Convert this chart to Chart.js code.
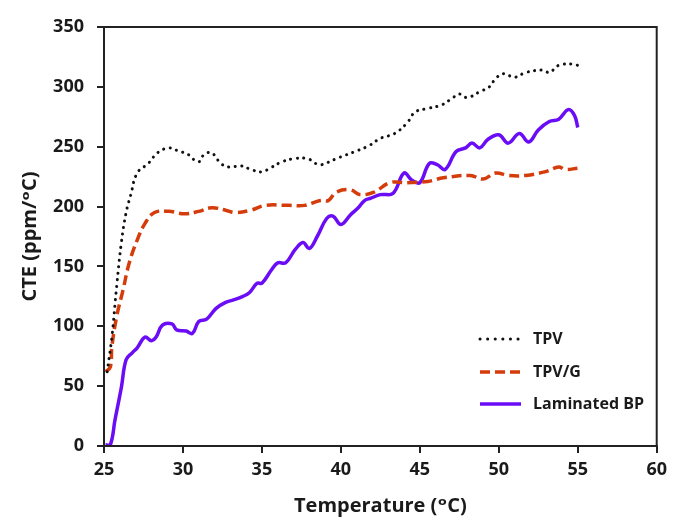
<!DOCTYPE html>
<html>
<head>
<meta charset="utf-8">
<script src="https://cdn.jsdelivr.net/npm/chart.js@4"></script>
<style>
  html, body { margin: 0; padding: 0; background: #fff; }
  #wrap { width: 673px; height: 522px; }
</style>
</head>
<body>
<div id="wrap"><canvas id="cte-chart" width="673" height="522"></canvas></div>
<script>
// values
const tpvTemp = [25.2, 25.5, 25.8, 26.1, 26.4, 26.7, 27.1, 27.8, 28.4, 29.1, 29.6, 30.4, 30.8, 31.1, 31.3, 31.8, 32.4, 32.9, 33.7, 34.3, 35.0, 35.5, 36.2, 37.0, 37.9, 38.6, 39.2, 39.7, 40.3, 41.1, 41.8, 42.5, 43.4, 44.2, 44.7, 45.5, 46.4, 47.1, 47.5, 48.0, 48.8, 49.4, 49.8, 50.3, 51.0, 51.7, 52.8, 53.2, 53.8, 54.7, 55.0];
const tpvCte = [62, 91, 133, 170, 195, 210, 228, 236, 245, 249, 247, 243, 238, 238, 243, 245, 236, 233, 234, 231, 229, 232, 237, 240, 240, 235, 237, 240, 243, 247, 251, 257, 261, 270, 279, 282, 285, 291, 294, 291, 296, 300, 307, 311, 308, 312, 314, 312, 318, 319, 318];

const tpvgTemp = [25.1, 25.4, 25.5, 25.8, 26.2, 26.6, 27.1, 27.6, 28.2, 29.1, 30.1, 31.0, 31.8, 32.7, 33.3, 34.3, 35.2, 36.7, 37.7, 38.7, 39.2, 39.7, 40.6, 41.2, 42.1, 43.1, 44.2, 45.5, 46.5, 48.2, 49.0, 49.8, 50.6, 51.7, 52.9, 53.8, 54.2, 55.0];
const tpvgCte = [62, 66, 83, 108, 130, 153, 172, 186, 195, 196, 194, 196, 199, 197, 195, 197, 201, 201, 201, 205, 205, 212, 214, 210, 212, 220, 220, 221, 224, 226, 223, 228, 226, 226, 229, 233, 231, 232];

const bpTemp = [25.1, 25.4, 25.7, 26.1, 26.4, 26.8, 27.1, 27.6, 28.0, 28.3, 28.7, 29.3, 29.6, 30.2, 30.6, 31.0, 31.5, 32.1, 32.7, 33.2, 33.8, 34.2, 34.7, 35.0, 35.6, 36.0, 36.5, 37.1, 37.6, 38.0, 38.5, 39.1, 39.5, 40.0, 40.6, 41.1, 41.5, 41.9, 42.5, 43.3, 44.0, 44.5, 45.0, 45.6, 46.1, 46.6, 47.3, 47.9, 48.3, 48.8, 49.3, 50.0, 50.6, 51.3, 51.9, 52.5, 53.2, 53.8, 54.4, 54.8, 55.0];
const bpCte = [1, 1, 22, 49, 72, 78, 82, 91, 88, 91, 101, 102, 97, 96, 94, 104, 106, 115, 120, 122, 125, 128, 136, 136, 147, 153, 153, 164, 170, 165, 175, 190, 192, 185, 193, 199, 205, 207, 210, 211, 228, 222, 220, 236, 235, 231, 246, 249, 253, 249, 256, 260, 253, 261, 254, 264, 271, 273, 281, 276, 266];

const seriesNames = ['TPV', 'TPV/G', 'Laminated BP'];
const xTicks = [25, 30, 35, 40, 45, 50, 55, 60];
const yTicks = [0, 50, 100, 150, 200, 250, 300, 350];

const toPoints = (xs, ys) => xs.map((x, i) => ({ x: x, y: ys[i] }));

const fontFam = '"Open Sans", "DejaVu Sans", sans-serif';
const ink = '#1a1a1a';

// box round the plot area
const frame = {
  id: 'frame',
  afterDatasetsDraw(chart) {
    const { ctx, chartArea: a } = chart;
    ctx.save();
    ctx.strokeStyle = '#222';
    ctx.lineWidth = 2;
    ctx.strokeRect(a.left, a.top, a.right - a.left, a.bottom - a.top);
    ctx.restore();
  }
};

// legend drawn inside the plot, bottom right
const innerLegend = {
  id: 'innerLegend',
  afterDraw(chart) {
    const { ctx } = chart;
    const x0 = 480, x1 = 521, tx = 533;
    const rows = [339, 372, 404];
    ctx.save();
    chart.data.datasets.forEach((ds, i) => {
      const y = rows[i];
      ctx.beginPath();
      ctx.strokeStyle = ds.borderColor;
      ctx.lineWidth = ds.borderWidth;
      ctx.lineCap = ds.borderCapStyle || 'butt';
      ctx.setLineDash(i === 0 ? [0.1, 7.5] : (ds.borderDash || []));
      ctx.moveTo(x0, y);
      ctx.lineTo(x1, y);
      ctx.stroke();
      ctx.setLineDash([]);
      ctx.fillStyle = ink;
      ctx.font = 'bold 16px ' + fontFam;
      ctx.textBaseline = 'middle';
      ctx.textAlign = 'left';
      ctx.fillText(ds.label, tx, y);
    });
    ctx.restore();
  }
};

const ctx = document.getElementById('cte-chart').getContext('2d');

new Chart(ctx, {
  type: 'line',
  data: {
    datasets: [
      {
        label: seriesNames[0],
        data: toPoints(tpvTemp, tpvCte),
        borderColor: '#111111',
        borderWidth: 3,
        borderDash: [0.1, 6.5],
        borderCapStyle: 'round',
        pointRadius: 0,
        tension: 0.4,
        fill: false
      },
      {
        label: seriesNames[1],
        data: toPoints(tpvgTemp, tpvgCte),
        borderColor: '#d53c0b',
        borderWidth: 3.5,
        borderDash: [10, 5],
        pointRadius: 0,
        tension: 0.4,
        fill: false
      },
      {
        label: seriesNames[2],
        data: toPoints(bpTemp, bpCte),
        borderColor: '#6a0cf6',
        borderWidth: 3.5,
        pointRadius: 0,
        tension: 0.4,
        fill: false
      }
    ]
  },
  options: {
    responsive: false,
    animation: false,
    layout: { padding: { left: 0, top: 27, right: 11, bottom: 0 } },
    plugins: {
      legend: { display: false },
      tooltip: { enabled: false }
    },
    scales: {
      x: {
        type: 'linear',
        min: 25,
        max: 60,
        afterBuildTicks: (s) => { s.ticks = xTicks.map(v => ({ value: v })); },
        afterFit: (s) => { s.height = 76; },
        ticks: {
          color: ink,
          padding: 6,
          font: { family: fontFam, size: 18, weight: 'bold' }
        },
        grid: { drawOnChartArea: false, tickLength: 7, color: '#222', lineWidth: 2 },
        border: { color: '#222', width: 2 },
        title: {
          display: true,
          text: 'Temperature (ᵒC)',
          color: ink,
          padding: { top: 0, bottom: 4 },
          font: { family: fontFam, size: 20, weight: 'bold' }
        }
      },
      y: {
        min: 0,
        max: 350,
        afterBuildTicks: (s) => { s.ticks = yTicks.map(v => ({ value: v })); },
        afterFit: (s) => { s.width = 104; },
        ticks: {
          color: ink,
          padding: 13,
          font: { family: fontFam, size: 18, weight: 'bold' }
        },
        grid: { drawOnChartArea: false, tickLength: 7, color: '#222', lineWidth: 2 },
        border: { color: '#222', width: 2 },
        title: {
          display: true,
          text: 'CTE (ppm/ᵒC)',
          color: ink,
          padding: { top: 18, bottom: 0 },
          font: { family: fontFam, size: 20, weight: 'bold' }
        }
      }
    }
  },
  plugins: [frame, innerLegend]
});
</script>
</body>
</html>
